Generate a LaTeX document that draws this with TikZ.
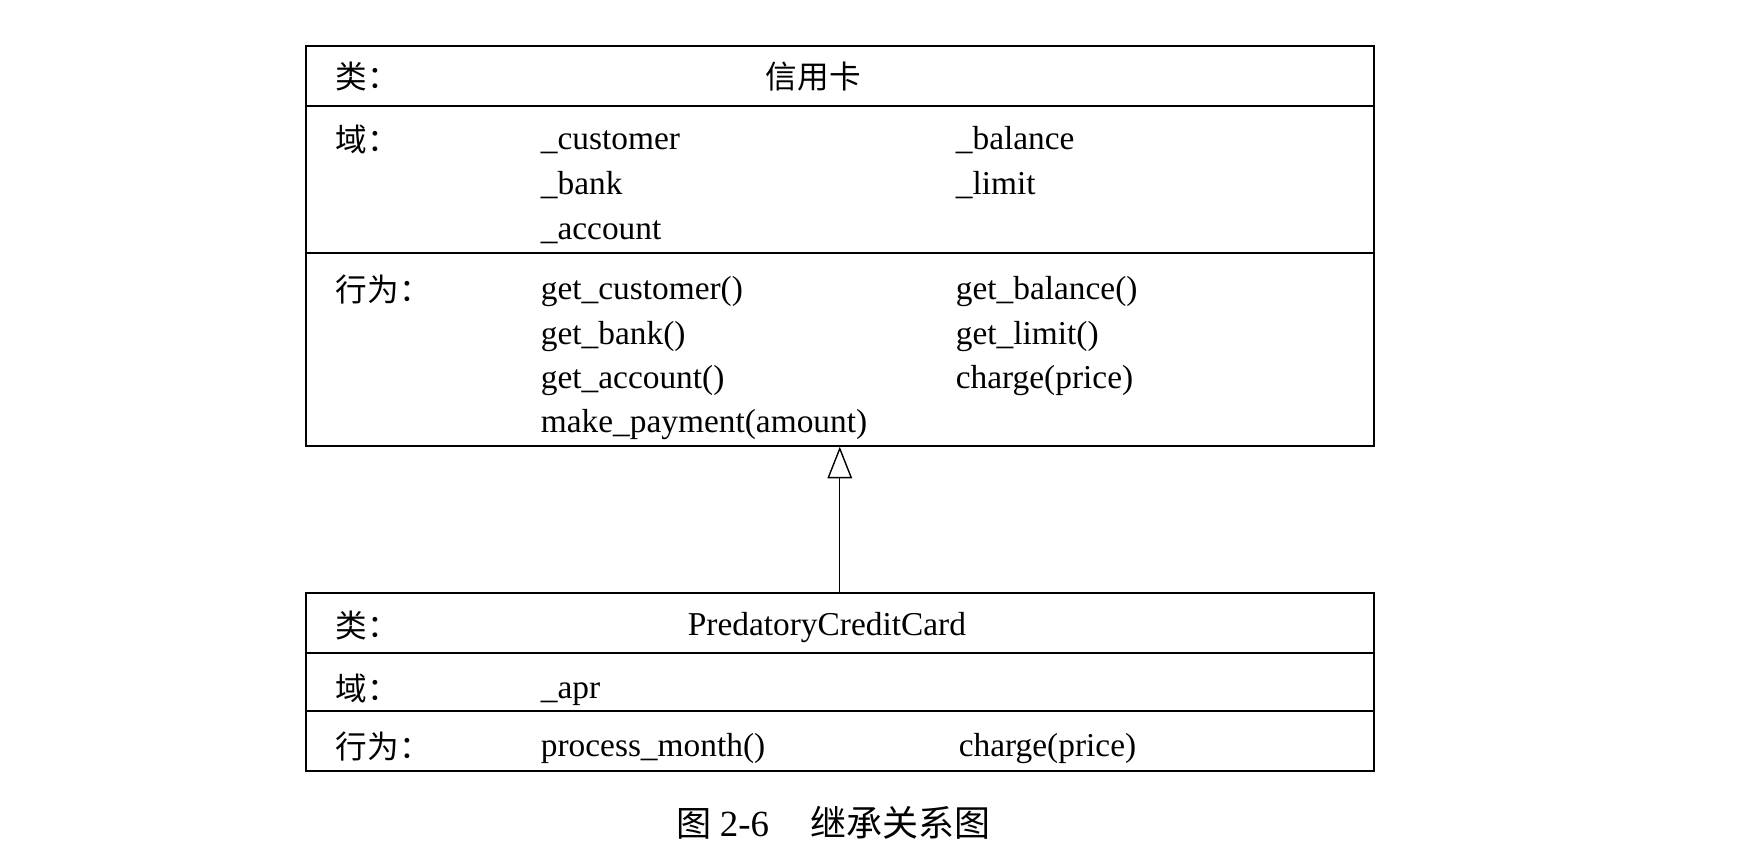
\documentclass[tikz,border=0pt]{standalone}
\usepackage{fontspec}
\setmainfont{Liberation Serif}
\newfontfamily\cjk{Noto Sans CJK SC}
\usetikzlibrary{arrows.meta}

\begin{document}
\begin{tikzpicture}[x=0.02cm, y=0.02cm, line width=1pt,
  txt/.style={anchor=west, inner sep=0pt, text height=1.1em, text depth=0.15em, font=\fontsize{19}{23}\selectfont},
  zh/.style={anchor=west, inner sep=0pt, text height=1.3em, text depth=0.14em, font=\fontsize{18}{23}\selectfont\cjk},
  classbox/.style={draw, anchor=north west, inner sep=0pt, minimum width=21.36cm}]
\useasboundingbox (0,0) rectangle (1749,-854);

% base class
\node[name = card, classbox, minimum height=8cm] at (305,-45) {};
\draw (card.west |- 0,-106) -- (card.east |- 0,-106);
\draw (card.west |- 0,-253) -- (card.east |- 0,-253);

\node[name = clsA, zh] at (335,-78) {类：};
\node[name = nameA, zh] at (765,-78) {信用卡};
\node[name = fldA, zh] at (335,-141) {域：};
\node[name = cust, txt] at (540,-141) {\_customer};
\node[name = bank, txt] at (540,-186) {\_bank};
\node[name = acct, txt] at (540,-231) {\_account};
\node[name = bal, txt] at (955,-141) {\_balance};
\node[name = lim, txt] at (955,-186) {\_limit};
\node[name = behA, zh] at (335,-291) {行为：};
\node[name = getcust, txt] at (540,-291) {get\_customer()};
\node[name = getbank, txt] at (540,-336) {get\_bank()};
\node[name = getacct, txt] at (540,-380) {get\_account()};
\node[name = pay, txt] at (540,-424) {make\_payment(amount)};
\node[name = getbal, txt] at (955,-291) {get\_balance()};
\node[name = getlim, txt] at (955,-336) {get\_limit()};
\node[name = chargeA, txt] at (955,-380) {charge(price)};

% subclass
\node[name = pcc, classbox, minimum height=3.56cm] at (305,-592) {};
\draw (pcc.west |- 0,-653) -- (pcc.east |- 0,-653);
\draw (pcc.west |- 0,-711) -- (pcc.east |- 0,-711);

\node[name = clsB, zh] at (335,-627) {类：};
\node[name = nameB, txt] at (687,-627) {PredatoryCreditCard};
\node[name = fldB, zh] at (335,-690) {域：};
\node[name = apr, txt] at (540,-690) {\_apr};
\node[name = behB, zh] at (335,-748) {行为：};
\node[name = month, txt] at (540,-748) {process\_month()};
\node[name = chargeB, txt] at (958,-748) {charge(price)};

% inheritance
\draw[line width=0.6pt, -{Triangle[open, length=18pt, width=14pt, line width=0.8pt]}] (pcc.north) -- (card.south);

% caption
\node[name = capnum, zh, font=\fontsize{20}{24}\selectfont\cjk] at (676,-826) {图 {\rmfamily\fontsize{21}{24}\selectfont 2-6}};
\node[name = captxt, zh, font=\fontsize{20.5}{24}\selectfont\cjk] at (810,-826) {继承关系图};
\end{tikzpicture}
\end{document}
